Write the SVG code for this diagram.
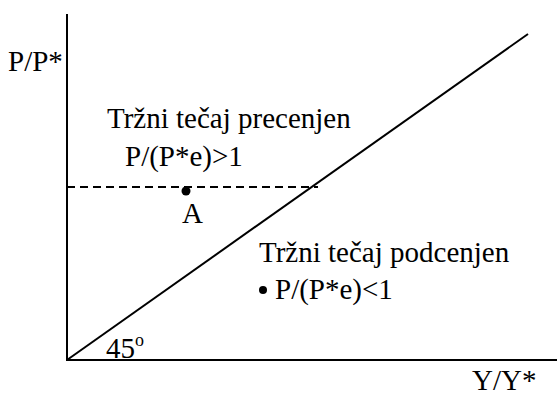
<svg xmlns="http://www.w3.org/2000/svg" width="557" height="396" viewBox="0 0 557 396">
<style>
text{font-family:'Liberation Serif','Times New Roman',serif;font-size:29px;fill:#000}
.ln{stroke:#000;stroke-width:2;fill:none}
.dot{fill:#000}
</style>
<rect width="557" height="396" fill="#fff"/>
<g id="connectors">
<line class="ln" x1="67" y1="14" x2="67" y2="361"/>
<line class="ln" x1="66" y1="360" x2="557" y2="360"/>
<line class="ln" x1="67" y1="360" x2="528" y2="34"/>
<line class="ln" x1="67" y1="187" x2="318" y2="187" stroke-dasharray="8,5"/>
</g>
<g id="axis-y-label"><text x="8" y="71">P/P*</text></g>
<g id="axis-x-label"><text x="472" y="390">Y/Y*</text></g>
<g id="angle"><text x="106" y="358">45<tspan font-size="18" dy="-12">o</tspan></text></g>
<g id="over"><text x="107" y="128">Tržni tečaj precenjen</text><text x="125" y="166">P/(P*e)&gt;1</text></g>
<g id="pointA"><circle class="dot" cx="186" cy="191" r="4.5"/><text x="182" y="223">A</text></g>
<g id="under"><text x="259" y="262">Tržni tečaj podcenjen</text><circle class="dot" cx="263" cy="290" r="4"/><text x="275" y="299">P/(P*e)&lt;1</text></g>
</svg>
